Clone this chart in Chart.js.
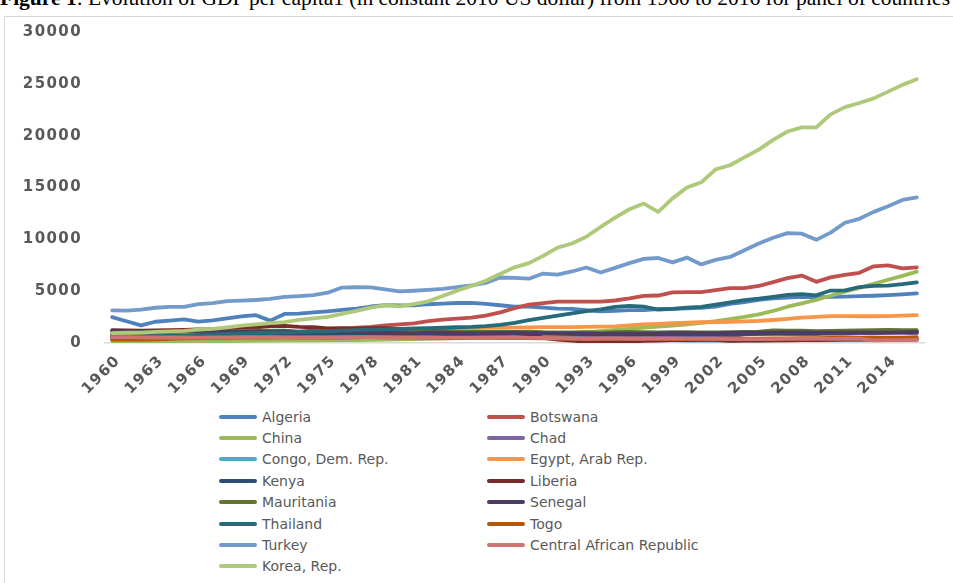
<!DOCTYPE html>
<html>
<head>
<meta charset="utf-8">
<script src="https://cdn.jsdelivr.net/npm/chart.js@4"></script>
<style>
  html, body { margin: 0; padding: 0; background: #fff; }
  body { width: 953px; height: 583px; position: relative; overflow: hidden; }
  #caption {
    position: absolute; left: 0; top: -12px; white-space: nowrap;
    font-family: "Liberation Serif", serif; font-size: 21.5px; line-height: 1; color: #000;
  }
  #frame {
    position: absolute; left: 4px; top: 16px; width: 970px; height: 620px;
    border: 1px solid #d6d6d6; box-sizing: border-box;
  }
  #chartBox { position: absolute; left: 0; top: 0; width: 953px; height: 400px; }
  #legend {
    position: absolute; left: 219px; top: 406px;
    display: grid; grid-template-columns: 268px 300px; grid-auto-rows: 21.4px;
    font-family: "DejaVu Sans", sans-serif; font-size: 14px; color: #595959;
  }
  .item { display: flex; align-items: center; white-space: nowrap; }
  .swatch { width: 38px; height: 4px; border-radius: 2px; margin-right: 5px; }
</style>
</head>
<body>
<div id="caption"><b>Figure 1</b>: Evolution of GDP per capita1 (in constant 2010 US dollar) from 1960 to 2016 for panel of countries</div>
<div id="frame"></div>
<div id="chartBox"><canvas id="gdpChart" width="953" height="400"></canvas></div>
<div id="legend"></div>
<script>
// Years on the horizontal axis
const years = [];
for (let y = 1960; y <= 2016; y++) years.push(String(y));

// Vertical axis ticks
const yTicks = [0, 5000, 10000, 15000, 20000, 25000, 30000];

// GDP per capita, constant 2010 US$, 1960-2016
const algeria = [2490, 2100, 1700, 2050, 2150, 2280, 2060, 2180, 2380, 2560, 2680, 2160, 2800, 2830, 2950, 3060, 3200, 3320, 3520, 3640,
  3620, 3640, 3740, 3800, 3860, 3880, 3780, 3640, 3500, 3520, 3420, 3320, 3300, 3160, 3060, 3110, 3180, 3170, 3260, 3300,
  3340, 3380, 3520, 3780, 3950, 4150, 4300, 4380, 4450, 4400, 4450, 4480, 4520, 4560, 4620, 4700, 4780];
const botswana = [320, 330, 350, 360, 380, 400, 420, 460, 500, 560, 640, 780, 900, 1050, 1150, 1180, 1350, 1480, 1560, 1700,
  1800, 1900, 2100, 2250, 2350, 2450, 2650, 2950, 3350, 3700, 3850, 4000, 4000, 4000, 4000, 4100, 4300, 4550, 4580, 4880,
  4900, 4900, 5100, 5300, 5300, 5500, 5880, 6250, 6500, 5900, 6330, 6580, 6770, 7400, 7480, 7200, 7300];
const china = [190, 140, 135, 145, 165, 185, 200, 185, 175, 200, 230, 240, 245, 260, 265, 280, 270, 285, 310, 330,
  350, 365, 390, 430, 480, 540, 580, 640, 700, 720, 740, 800, 900, 1020, 1140, 1260, 1370, 1480, 1580, 1680,
  1800, 1940, 2100, 2300, 2510, 2760, 3090, 3500, 3820, 4160, 4560, 4960, 5320, 5710, 6100, 6480, 6880];
const chad = [800, 810, 810, 790, 770, 760, 740, 730, 720, 720, 720, 720, 690, 650, 690, 720, 720, 700, 700, 560,
  520, 510, 510, 570, 540, 620, 590, 560, 620, 620, 590, 620, 650, 560, 570, 570, 570, 580, 600, 570,
  540, 570, 590, 650, 830, 900, 880, 860, 860, 860, 910, 880, 930, 940, 970, 980, 900];
const congo = [1000, 930, 950, 960, 930, 950, 980, 940, 950, 1020, 1010, 1040, 1010, 1050, 1050, 960, 880, 860, 780, 760,
  750, 750, 720, 710, 730, 720, 730, 720, 700, 670, 620, 550, 480, 400, 370, 360, 340, 320, 300, 270,
  240, 230, 230, 240, 250, 260, 260, 270, 280, 280, 290, 300, 310, 330, 350, 370, 370];
const egypt = [720, 740, 770, 800, 830, 850, 850, 830, 840, 870, 890, 900, 910, 920, 940, 1010, 1080, 1140, 1170, 1200,
  1230, 1250, 1320, 1370, 1400, 1430, 1450, 1460, 1490, 1510, 1540, 1530, 1540, 1550, 1580, 1610, 1700, 1790, 1850, 1910,
  1970, 2000, 2010, 2040, 2080, 2130, 2220, 2330, 2450, 2520, 2600, 2590, 2580, 2580, 2600, 2640, 2680];
const kenya = [620, 600, 620, 640, 650, 630, 680, 690, 710, 730, 740, 760, 810, 830, 840, 830, 830, 880, 900, 920,
  920, 920, 900, 880, 860, 870, 890, 910, 930, 940, 940, 920, 880, 860, 860, 870, 870, 860, 860, 850,
  830, 840, 830, 840, 860, 880, 910, 950, 930, 920, 970, 990, 1000, 1030, 1050, 1070, 1100];
const liberia = [1250, 1220, 1200, 1210, 1250, 1270, 1300, 1310, 1330, 1420, 1520, 1620, 1650, 1560, 1520, 1400, 1430, 1380, 1430, 1440,
  1350, 1280, 1200, 1130, 1080, 1050, 1000, 980, 960, 870, 500, 320, 220, 140, 110, 110, 130, 200, 240, 270,
  290, 300, 310, 210, 220, 230, 250, 260, 270, 280, 300, 320, 340, 360, 360, 350, 340];
const mauritania = [850, 900, 920, 930, 1050, 1100, 1120, 1110, 1170, 1160, 1190, 1180, 1190, 1100, 1180, 1130, 1190, 1150, 1110, 1140,
  1160, 1170, 1120, 1130, 1060, 1070, 1080, 1080, 1080, 1090, 1040, 1030, 1030, 1050, 1000, 1050, 1070, 1040, 1030, 1050,
  1040, 1030, 1020, 1040, 1060, 1090, 1220, 1200, 1190, 1150, 1170, 1180, 1210, 1240, 1260, 1240, 1250];
const senegal = [1150, 1150, 1150, 1160, 1170, 1170, 1170, 1140, 1150, 1060, 1100, 1070, 1110, 1040, 1040, 1070, 1110, 1050, 960, 1000,
  950, 930, 1010, 1000, 950, 950, 960, 970, 990, 950, 950, 930, 930, 890, 880, 900, 900, 910, 920, 940,
  950, 960, 940, 970, 990, 1010, 1000, 1020, 1030, 1010, 1010, 1000, 1010, 1000, 1010, 1030, 1060];
const thailand = [570, 590, 620, 650, 680, 720, 790, 830, 880, 930, 970, 990, 1010, 1080, 1100, 1130, 1200, 1250, 1290, 1320,
  1350, 1400, 1430, 1470, 1520, 1550, 1620, 1750, 1950, 2200, 2430, 2650, 2850, 3080, 3250, 3480, 3580, 3500, 3230, 3300,
  3420, 3480, 3700, 3920, 4130, 4270, 4450, 4650, 4710, 4600, 5060, 5070, 5400, 5520, 5530, 5670, 5850];
const togo = [330, 340, 340, 350, 400, 450, 480, 480, 490, 520, 510, 530, 540, 520, 530, 530, 510, 550, 600, 560,
  600, 560, 520, 480, 480, 490, 490, 470, 480, 480, 460, 440, 410, 340, 380, 400, 420, 400, 390, 390,
  400, 400, 410, 420, 420, 430, 440, 450, 460, 470, 480, 490, 500, 510, 520, 520, 530];
const turkey = [3150, 3130, 3220, 3400, 3480, 3480, 3750, 3850, 4030, 4080, 4150, 4250, 4450, 4520, 4620, 4850, 5350, 5380, 5360, 5180,
  4980, 5040, 5120, 5220, 5400, 5550, 5800, 6320, 6280, 6200, 6700, 6600, 6900, 7280, 6800, 7250, 7700, 8120, 8200, 7780,
  8240, 7580, 8020, 8300, 8950, 9600, 10150, 10600, 10550, 9950, 10650, 11600, 11980, 12650, 13200, 13800, 14050];
const centralAfrica = [560, 560, 540, 530, 530, 530, 520, 530, 540, 570, 570, 560, 540, 540, 540, 550, 560, 570, 570, 530,
  510, 500, 520, 490, 510, 520, 510, 490, 490, 500, 480, 460, 420, 410, 430, 440, 400, 410, 420, 420,
  420, 420, 410, 380, 370, 370, 380, 390, 390, 390, 400, 410, 420, 260, 270, 280, 290];
const korea = [960, 990, 1010, 1070, 1130, 1170, 1290, 1370, 1510, 1680, 1800, 1920, 2010, 2230, 2380, 2520, 2800, 3100, 3420, 3650,
  3540, 3760, 4020, 4540, 5050, 5500, 6000, 6650, 7300, 7700, 8400, 9200, 9600, 10250, 11200, 12100, 12900, 13450, 12650, 13950,
  15000, 15500, 16750, 17150, 17900, 18650, 19600, 20400, 20800, 20800, 22050, 22750, 23150, 23600, 24250, 24900, 25450];

const countries = ['Algeria', 'Botswana', 'China', 'Chad', 'Congo, Dem. Rep.', 'Egypt, Arab Rep.', 'Kenya', 'Liberia',
  'Mauritania', 'Senegal', 'Thailand', 'Togo', 'Turkey', 'Central African Republic', 'Korea, Rep.'];
const series = [algeria, botswana, china, chad, congo, egypt, kenya, liberia,
  mauritania, senegal, thailand, togo, turkey, centralAfrica, korea];
const colors = ['#4F81BD', '#C0504D', '#9BBB59', '#8064A2', '#4BACC6', '#F79646', '#2C4D75', '#772C2A',
  '#5F7530', '#4D3B62', '#276A7C', '#B65708', '#729ACA', '#CD7371', '#AFC97A'];

const tickFont = { family: '"DejaVu Sans", sans-serif', size: 15, weight: 'bold' };

// Later series are painted over earlier ones
const datasets = countries.map((name, i) => ({
  label: name,
  data: series[i],
  borderColor: colors[i],
  backgroundColor: colors[i],
  borderWidth: 3.8,
  borderJoinStyle: 'round',
  borderCapStyle: 'round',
  pointRadius: 0,
  tension: 0,
  order: countries.length - i
}));

// Wider spacing for the axis digits
const spacedText = {
  id: 'spacedText',
  beforeLayout(chart) { chart.ctx.letterSpacing = '1.4px'; },
  beforeDraw(chart) { chart.ctx.letterSpacing = '1.4px'; }
};

new Chart(document.getElementById('gdpChart'), {
  type: 'line',
  data: { labels: years, datasets },
  plugins: [spacedText],
  options: {
    responsive: false,
    animation: false,
    layout: { padding: { top: 30, right: 29, left: 0, bottom: 0 } },
    plugins: { legend: { display: false }, tooltip: { enabled: false } },
    scales: {
      x: {
        type: 'category',
        offset: true,
        grid: { display: false, drawTicks: false },
        border: { display: true, color: '#d9d9d9', width: 1.5 },
        ticks: {
          autoSkip: false,
          minRotation: 45,
          maxRotation: 45,
          padding: 9,
          labelOffset: 6,
          color: '#595959',
          font: tickFont,
          callback(value, index) {
            const year = Number(years[index]);
            return (year - 1960) % 3 === 0 ? years[index] : '';
          }
        },
        afterFit(scale) { scale.height = 57; }
      },
      y: {
        min: yTicks[0],
        max: yTicks[yTicks.length - 1],
        grid: { display: false, drawTicks: false },
        border: { display: false },
        afterBuildTicks(scale) { scale.ticks = yTicks.map(v => ({ value: v })); },
        ticks: { padding: 23, color: '#595959', font: tickFont, callback: v => String(v) },
        afterFit(scale) { scale.width = 105; }
      }
    }
  }
});

// Two-column legend below the plot
const legend = document.getElementById('legend');
countries.forEach((name, i) => {
  const item = document.createElement('div');
  item.className = 'item';
  const swatch = document.createElement('span');
  swatch.className = 'swatch';
  swatch.style.background = colors[i];
  const text = document.createElement('span');
  text.textContent = name;
  item.appendChild(swatch);
  item.appendChild(text);
  legend.appendChild(item);
});
</script>
</body>
</html>
